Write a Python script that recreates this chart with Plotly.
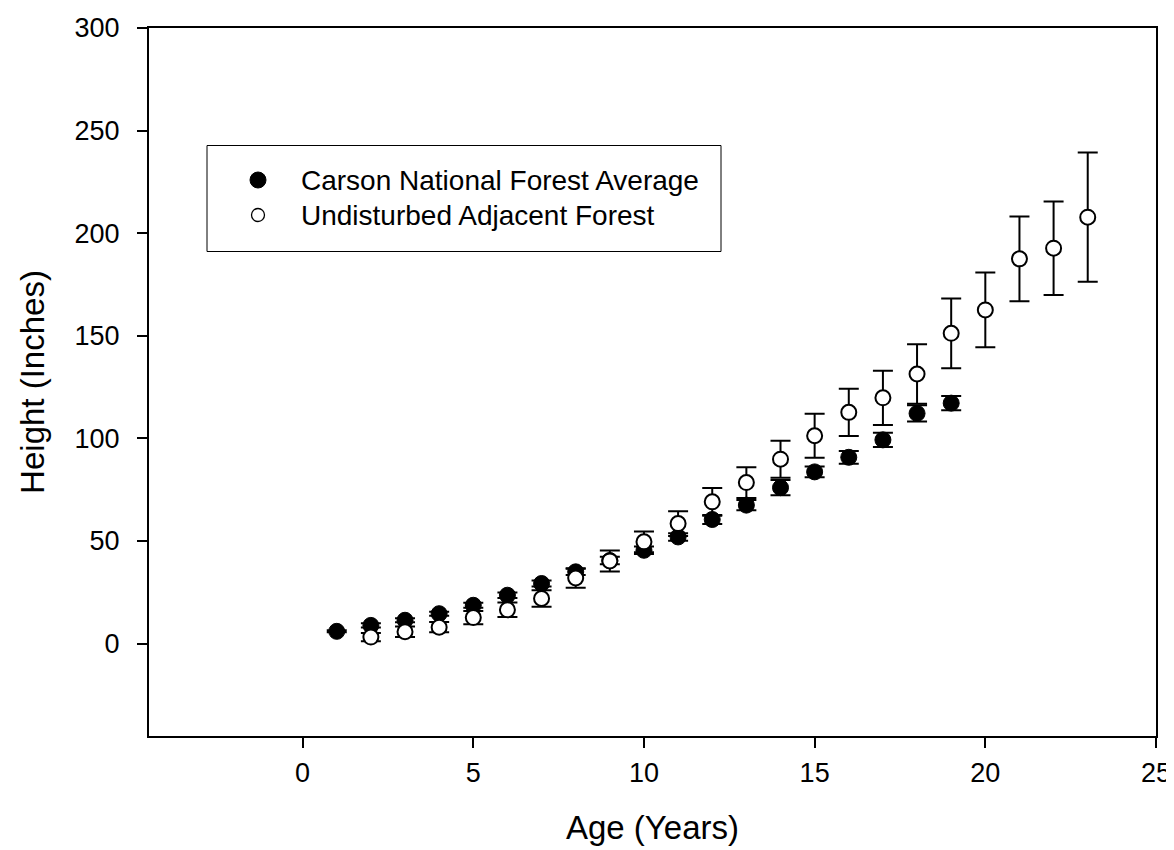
import plotly.graph_objects as go

# ---- data ----
carson_age = [1, 2, 3, 4, 5, 6, 7, 8, 9, 10, 11, 12, 13, 14, 15, 16, 17, 18, 19]
carson_height = [6.0, 8.9, 11.4, 14.6, 18.7, 23.6, 29.3, 35.0, 40.5, 45.5, 52.0,
                 60.5, 67.5, 76.0, 83.7, 90.8, 99.3, 112.2, 117.2]
carson_err = [0.5, 1.0, 1.0, 1.0, 1.2, 1.3, 1.5, 1.5, 1.8, 1.8, 1.8,
              2.2, 2.5, 3.7, 2.6, 3.1, 3.5, 4.0, 3.5]

undist_age = [2, 3, 4, 5, 6, 7, 8, 9, 10, 11, 12, 13, 14, 15, 16, 17, 18, 19, 20, 21, 22, 23]
undist_height = [3.2, 5.8, 8.0, 12.7, 16.5, 22.0, 32.0, 40.3, 49.6, 58.5, 69.1,
                 78.5, 89.9, 101.3, 112.7, 119.8, 131.4, 151.2, 162.6, 187.5, 192.7, 207.8]
undist_err = [2.0, 2.5, 2.5, 3.2, 3.5, 4.0, 4.8, 5.1, 5.0, 6.0, 6.8,
              7.5, 9.0, 10.7, 11.5, 13.2, 14.5, 17.0, 18.2, 20.6, 22.8, 31.5]

series_names = ["Carson National Forest Average", "Undisturbed Adjacent Forest"]
x_ticks = [0, 5, 10, 15, 20, 25]
y_ticks = [0, 50, 100, 150, 200, 250, 300]
x_title = "Age (Years)"
y_title = "Height (Inches)"

FONT = "Arial, 'Liberation Sans', sans-serif"

fig = go.Figure()
fig.add_trace(go.Scatter(
    x=carson_age, y=carson_height, mode="markers", name=series_names[0],
    marker=dict(symbol="circle", size=16, color="black", line=dict(color="black", width=1)),
    error_y=dict(type="data", array=carson_err, visible=True, color="black", thickness=2, width=10),
    showlegend=False,
))
fig.add_trace(go.Scatter(
    x=undist_age, y=undist_height, mode="markers", name=series_names[1],
    marker=dict(symbol="circle", size=15, color="white", line=dict(color="black", width=2)),
    error_y=dict(type="data", array=undist_err, visible=True, color="black", thickness=2, width=10),
    showlegend=False,
))

# manual legend (box, symbols, labels)
L, R, T, B = 141, 1148, 20, 728
def px(xp):
    return (xp - L) / (R - L)
def py(yp):
    return (B - yp) / (B - T)

shapes = [
    dict(type="rect", xref="paper", yref="paper", x0=px(199), x1=px(713), y0=py(243.5), y1=py(137.5),
         line=dict(color="black", width=1), fillcolor="white", layer="above"),
    dict(type="circle", xref="paper", yref="paper", xsizemode="pixel", ysizemode="pixel",
         xanchor=px(250), yanchor=py(172), x0=-8, x1=8, y0=-8, y1=8,
         fillcolor="black", line=dict(color="black", width=1), layer="above"),
    dict(type="circle", xref="paper", yref="paper", xsizemode="pixel", ysizemode="pixel",
         xanchor=px(250), yanchor=py(207), x0=-6.5, x1=6.5, y0=-6.5, y1=6.5,
         fillcolor="white", line=dict(color="black", width=1.3), layer="above"),
]
annotations = [
    dict(text=series_names[0], xref="paper", yref="paper", x=px(291), y=py(172),
         xanchor="left", yanchor="middle", showarrow=False, font=dict(family=FONT, size=28, color="black")),
    dict(text=series_names[1], xref="paper", yref="paper", x=px(291), y=py(207),
         xanchor="left", yanchor="middle", showarrow=False, font=dict(family=FONT, size=28, color="black")),
]

fig.update_layout(
    width=1174, height=850,
    margin=dict(l=L, r=1174 - R, t=T, b=850 - B, autoexpand=False),
    paper_bgcolor="white", plot_bgcolor="white",
    font=dict(family=FONT, color="black"),
    shapes=shapes, annotations=annotations,
    showlegend=False,
)
fig.update_xaxes(
    range=[-4.5, 25], tickvals=x_ticks, ticks="outside", ticklen=10, tickwidth=2, tickcolor="black",
    showline=True, linecolor="black", linewidth=2, mirror=True, showgrid=False, zeroline=False,
    tickfont=dict(family=FONT, size=27, color="black"), ticklabelstandoff=2,
    title=dict(text=x_title, font=dict(family=FONT, size=33, color="black"), standoff=28),
    automargin=False,
)
fig.update_yaxes(
    range=[-45, 300], tickvals=y_ticks, ticks="outside", ticklen=10, tickwidth=2, tickcolor="black",
    showline=True, linecolor="black", linewidth=2, mirror=True, showgrid=False, zeroline=False,
    tickfont=dict(family=FONT, size=27, color="black"), ticklabelstandoff=12,
    title=dict(text=y_title, font=dict(family=FONT, size=33, color="black"), standoff=20),
    automargin=False,
)

fig.write_html("out.html")
